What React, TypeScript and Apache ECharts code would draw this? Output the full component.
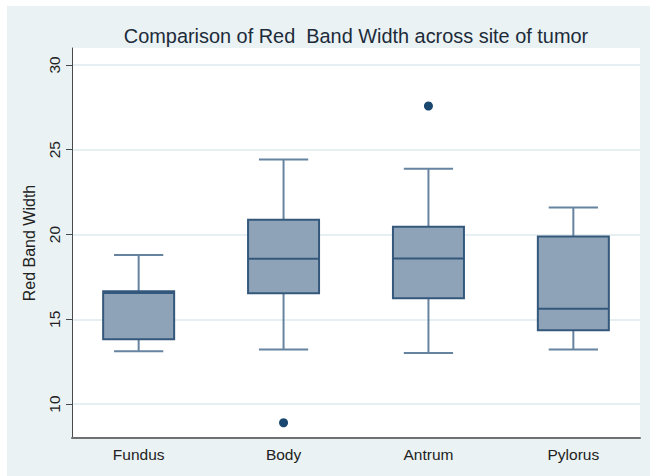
import React, { useEffect, useRef } from "react";
import * as echarts from "echarts";

// Tumor sites along the x axis
const sites = ["Fundus", "Body", "Antrum", "Pylorus"];

// Box summaries per site: lower whisker, Q1, median, Q3, upper whisker
const lowerWhisker = [13.12, 13.22, 13.02, 13.22];
const quartile1 = [13.83, 16.54, 16.24, 14.36];
const medians = [16.55, 18.57, 18.59, 15.62];
const quartile3 = [16.65, 20.87, 20.46, 19.89];
const upperWhisker = [18.79, 24.43, 23.88, 21.59];

// Outside values: [site index, value]
const outliers: [number, number][] = [
  [1, 8.9],
  [2, 27.58],
];

// Y axis ticks
const yTicks = [10, 15, 20, 25, 30];

const FONT = "'Liberation Sans', Arial, sans-serif";

export default function App() {
  const ref = useRef<HTMLDivElement>(null);

  useEffect(() => {
    if (!ref.current) return;
    const chart = echarts.init(ref.current, null, { renderer: "svg" });

    const boxData = sites.map((_, i) => [
      i,
      lowerWhisker[i],
      quartile1[i],
      medians[i],
      quartile3[i],
      upperWhisker[i],
    ]);

    const boxStroke = "#34587c";
    const whiskerStroke = "#6683a0";

    chart.setOption({
      animation: false,
      backgroundColor: "#ffffff",
      graphic: [
        {
          type: "rect",
          z: -100,
          silent: true,
          shape: { x: 7, y: 6, width: 643, height: 470 },
          style: { fill: "#eaf2f3" },
        },
        {
          type: "text",
          x: 356,
          y: 36,
          silent: true,
          style: {
            text: "Comparison of Red  Band Width across site of tumor",
            font: `19.9px ${FONT}`,
            fill: "#1d2b3a",
            textAlign: "center",
            textVerticalAlign: "middle",
          },
        },
      ],
      grid: {
        left: 72,
        top: 48,
        right: 10,
        bottom: 38,
        show: true,
        backgroundColor: "#ffffff",
        borderWidth: 0,
      },
      xAxis: {
        type: "value",
        min: -0.46,
        max: 3.46,
        axisLine: { show: true, onZero: false, lineStyle: { color: "#707070", width: 2 } },
        axisTick: { show: false },
        splitLine: { show: false },
        axisLabel: {
          customValues: [0, 1, 2, 3],
          formatter: (v: number) => sites[Math.round(v)] ?? "",
          color: "#222222",
          fontFamily: FONT,
          fontSize: 15.5,
          margin: 8,
        },
      },
      yAxis: {
        type: "value",
        min: 8,
        max: 31,
        name: "Red Band Width",
        nameLocation: "middle",
        nameRotate: 90,
        nameGap: 35,
        nameTextStyle: { color: "#222222", fontFamily: FONT, fontSize: 16 },
        axisLine: { show: true, onZero: false, lineStyle: { color: "#4a4a4a", width: 1 } },
        axisTick: {
          show: true,
          customValues: yTicks,
          length: 6,
          lineStyle: { color: "#4a4a4a" },
        },
        axisLabel: {
          customValues: yTicks,
          rotate: 90,
          color: "#222222",
          fontFamily: FONT,
          fontSize: 15.5,
          margin: 10,
        },
        splitLine: {
          show: true,
          lineStyle: { color: "#e6eff1", width: 2 },
        },
      },
      series: [
        {
          type: "custom",
          data: boxData,
          encode: { x: 0, y: [1, 2, 3, 4, 5] },
          renderItem: (params: any, api: any) => {
            const idx = api.value(0);
            const band = api.size([1, 0])[0];
            const boxHalf = band * 0.245;
            const capHalf = band * 0.17;
            const pLow = api.coord([idx, api.value(1)]);
            const pQ1 = api.coord([idx, api.value(2)]);
            const pMed = api.coord([idx, api.value(3)]);
            const pQ3 = api.coord([idx, api.value(4)]);
            const pHigh = api.coord([idx, api.value(5)]);
            const cx = pMed[0];
            const whiskerStyle = { stroke: whiskerStroke, lineWidth: 2, fill: "none" };
            return {
              type: "group",
              children: [
                {
                  type: "line",
                  shape: { x1: cx, y1: pQ3[1], x2: cx, y2: pHigh[1] },
                  style: whiskerStyle,
                },
                {
                  type: "line",
                  shape: { x1: cx, y1: pQ1[1], x2: cx, y2: pLow[1] },
                  style: whiskerStyle,
                },
                {
                  type: "line",
                  shape: { x1: cx - capHalf, y1: pHigh[1], x2: cx + capHalf, y2: pHigh[1] },
                  style: whiskerStyle,
                },
                {
                  type: "line",
                  shape: { x1: cx - capHalf, y1: pLow[1], x2: cx + capHalf, y2: pLow[1] },
                  style: whiskerStyle,
                },
                {
                  type: "rect",
                  shape: {
                    x: cx - boxHalf,
                    y: pQ3[1],
                    width: boxHalf * 2,
                    height: pQ1[1] - pQ3[1],
                  },
                  style: { fill: "#8ea3b7", stroke: boxStroke, lineWidth: 2 },
                },
                {
                  type: "line",
                  shape: { x1: cx - boxHalf, y1: pMed[1], x2: cx + boxHalf, y2: pMed[1] },
                  style: { stroke: boxStroke, lineWidth: 2 },
                },
              ],
            };
          },
        },
        {
          type: "scatter",
          data: outliers,
          symbol: "circle",
          symbolSize: 9,
          itemStyle: { color: "#1a476f", opacity: 1 },
        },
      ],
    });

    return () => chart.dispose();
  }, []);

  return (
    <div
      ref={ref}
      style={{ position: "fixed", left: 0, top: 0, width: 650, height: 476 }}
    />
  );
}
